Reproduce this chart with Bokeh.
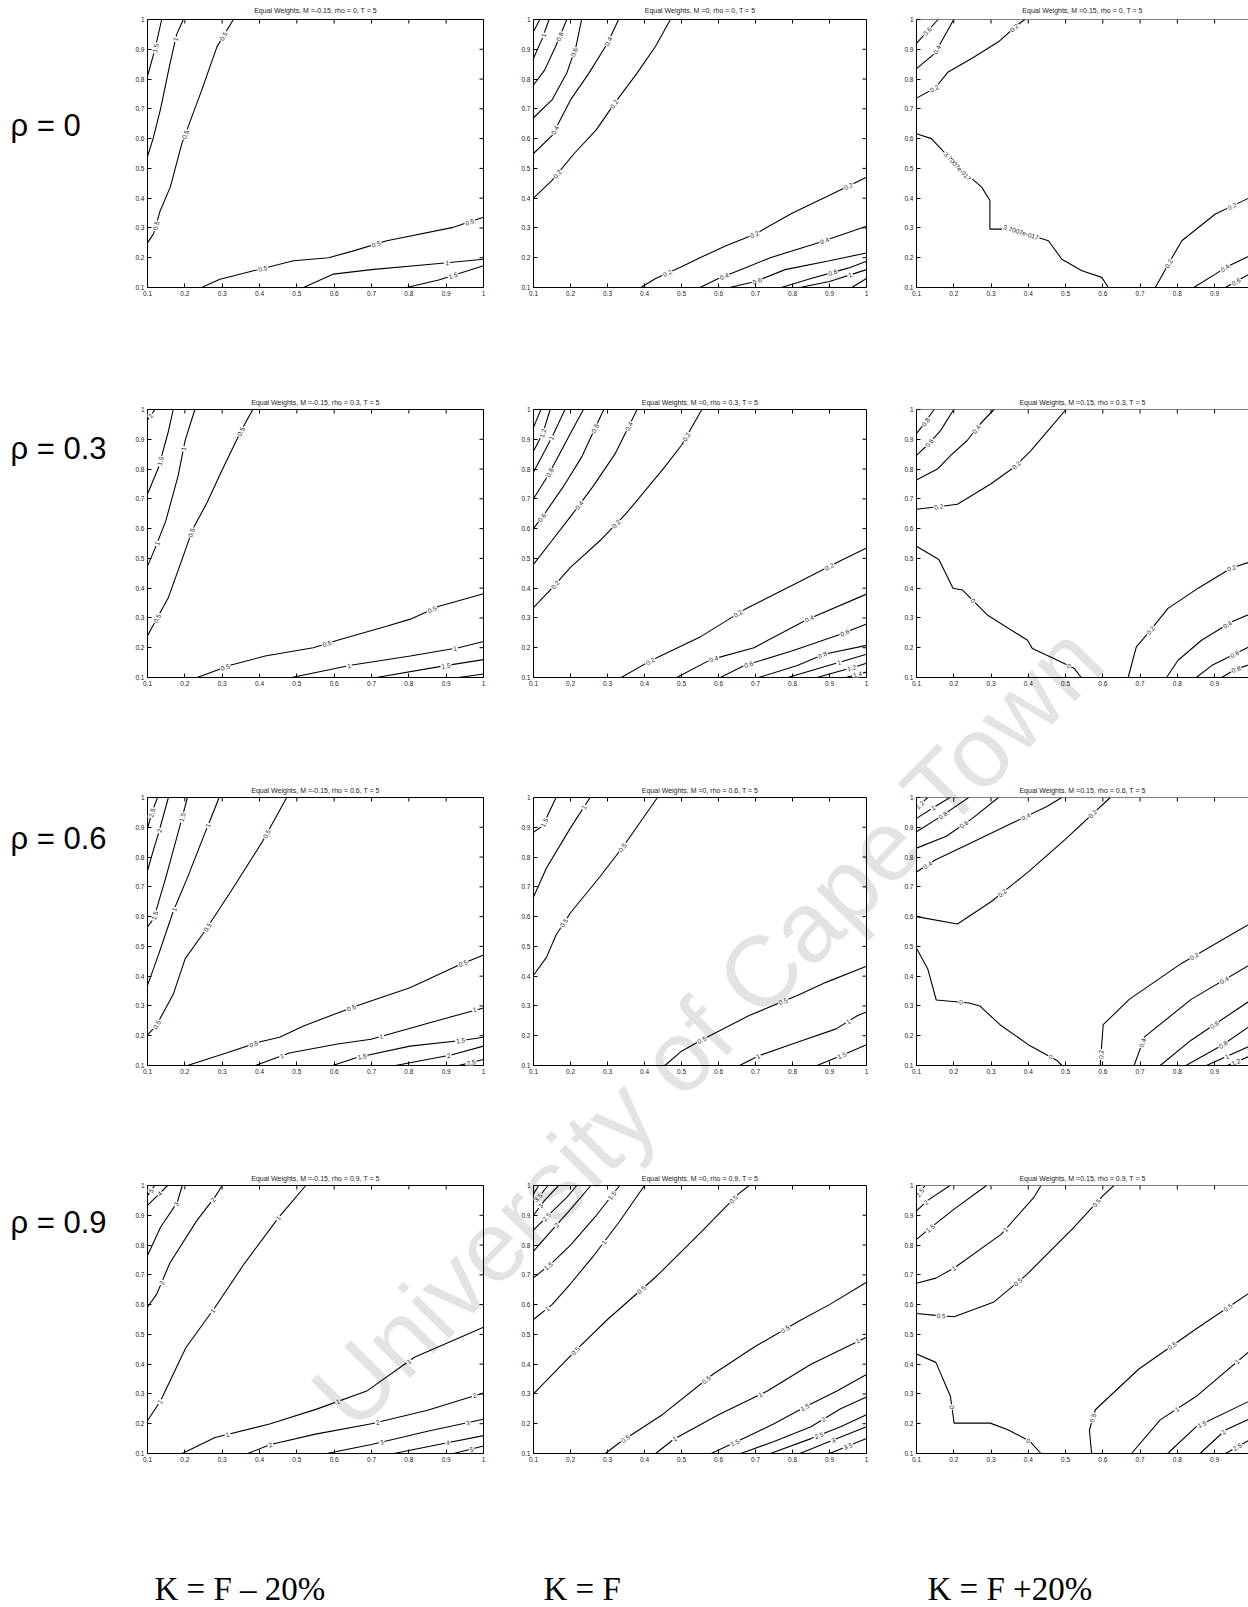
import math
from bokeh.plotting import figure
from bokeh.layouts import column, row
from bokeh.models import Range1d, FixedTicker, Span
from bokeh.core.properties import value
from bokeh.embed import file_html
from bokeh.resources import INLINE

# ---------------- data ----------------
TICKS = [0.1, 0.2, 0.3, 0.4, 0.5, 0.6, 0.7, 0.8, 0.9, 1.0]
TICK_LABELS = ["0.1", "0.2", "0.3", "0.4", "0.5", "0.6", "0.7", "0.8", "0.9", "1"]
M_VALUES = ["-0.15", "0", "0.15"]
RHO_VALUES = ["0", "0.3", "0.6", "0.9"]
RHO_LABELS = ["\u03c1 = 0", "\u03c1 = 0.3", "\u03c1 = 0.6", "\u03c1 = 0.9"]
K_LABELS = ["K = F \u2013 20%", "K = F", "K = F +20%"]
WATERMARK = "University of Cape Town"

# each contour: (label, xs, ys, label positions as fraction of line length)
R1C1 = [
    ("1.5", [0.1, 0.12, 0.138], [0.81, 0.9, 1.0], [0.5]),
    ("1", [0.1, 0.115, 0.135, 0.16, 0.178, 0.196], [0.54, 0.6, 0.7, 0.85, 0.95, 1.0], [0.85]),
    ("0.5", [0.1, 0.116, 0.134, 0.161, 0.192, 0.245, 0.286, 0.33], [0.25, 0.28, 0.358, 0.437, 0.583, 0.762, 0.908, 1.0], [0.08, 0.48, 0.92]),
    ("0.5", [0.245, 0.294, 0.384, 0.491, 0.585, 0.652, 0.741, 0.919, 1.0], [0.1, 0.128, 0.156, 0.19, 0.2, 0.223, 0.257, 0.302, 0.336], [0.22, 0.62, 0.95]),
    ("1", [0.518, 0.598, 0.7, 0.874, 1.0], [0.1, 0.145, 0.16, 0.18, 0.195], [0.8]),
    ("1.5", [0.794, 0.88, 1.0], [0.1, 0.125, 0.173], [0.6]),
]
R1C2 = [
    ("1.2", [0.1, 0.117], [0.96, 1.0], []),
    ("1", [0.1, 0.125, 0.142], [0.87, 0.94, 1.0], [0.6]),
    ("0.8", [0.1, 0.13, 0.16, 0.19], [0.78, 0.83, 0.91, 1.0], [0.75]),
    ("0.6", [0.1, 0.15, 0.19, 0.215, 0.23], [0.67, 0.73, 0.82, 0.91, 1.0], [0.7]),
    ("0.4", [0.1, 0.15, 0.2, 0.25, 0.3, 0.33], [0.55, 0.61, 0.73, 0.82, 0.92, 1.0], [0.2, 0.85]),
    ("0.2", [0.1, 0.15, 0.21, 0.27, 0.32, 0.38, 0.43, 0.47], [0.4, 0.46, 0.55, 0.63, 0.72, 0.82, 0.91, 1.0], [0.15, 0.55]),
    ("0.2", [0.39, 0.43, 0.5, 0.55, 0.62, 0.7, 0.8, 0.9, 1.0], [0.1, 0.13, 0.17, 0.2, 0.24, 0.28, 0.35, 0.41, 0.47], [0.12, 0.5, 0.92]),
    ("0.4", [0.55, 0.6, 0.68, 0.74, 0.87, 1.0], [0.1, 0.13, 0.17, 0.2, 0.25, 0.306], [0.15, 0.75]),
    ("0.6", [0.63, 0.7, 0.78, 0.9, 1.0], [0.1, 0.12, 0.16, 0.19, 0.216], [0.2]),
    ("0.8", [0.77, 0.85, 0.95, 1.0], [0.1, 0.13, 0.165, 0.188], [0.6]),
    ("1", [0.82, 0.9, 1.0], [0.1, 0.12, 0.16], [0.75]),
    ("1.2", [0.96, 1.0], [0.1, 0.13], []),
]
R1C3 = [
    ("0.6", [0.1, 0.125, 0.158], [0.92, 0.955, 1.0], [0.5]),
    ("0.4", [0.1, 0.149, 0.2], [0.835, 0.886, 1.0], [0.45]),
    ("0.2", [0.1, 0.15, 0.185, 0.248, 0.32, 0.373, 0.391], [0.736, 0.77, 0.824, 0.869, 0.925, 0.984, 1.0], [0.15, 0.9]),
    ("3.7007e-017", [0.1, 0.14, 0.212, 0.275, 0.297, 0.297, 0.355, 0.454, 0.49, 0.544, 0.597, 0.615],
     [0.616, 0.6, 0.504, 0.437, 0.392, 0.296, 0.296, 0.257, 0.195, 0.156, 0.134, 0.1], [0.2, 0.6]),
    ("0.2", [0.741, 0.776, 0.812, 0.902, 1.0], [0.1, 0.179, 0.257, 0.347, 0.405], [0.2, 0.84]),
    ("0.4", [0.844, 0.902, 0.929, 1.0], [0.1, 0.145, 0.167, 0.21], [0.55]),
    ("0.6", [0.929, 1.0], [0.1, 0.15], [0.4]),
]
R2C1 = [
    ("2", [0.1, 0.12], [0.965, 1.0], [0.4]),
    ("1.5", [0.1, 0.13, 0.156, 0.169], [0.716, 0.807, 0.927, 1.0], [0.4]),
    ("1", [0.1, 0.123, 0.149, 0.182, 0.201, 0.227], [0.474, 0.542, 0.626, 0.777, 0.897, 1.0], [0.15, 0.75]),
    ("0.5", [0.1, 0.123, 0.156, 0.195, 0.22, 0.259, 0.298, 0.35, 0.382], [0.24, 0.293, 0.369, 0.505, 0.595, 0.686, 0.792, 0.927, 1.0], [0.08, 0.45, 0.9]),
    ("0.5", [0.233, 0.324, 0.415, 0.544, 0.609, 0.738, 0.804, 0.881, 1.0], [0.1, 0.142, 0.172, 0.2, 0.225, 0.271, 0.296, 0.339, 0.381], [0.1, 0.45, 0.82]),
    ("1", [0.486, 0.648, 0.804, 0.933, 1.0], [0.1, 0.142, 0.172, 0.2, 0.221], [0.3, 0.85]),
    ("1.5", [0.713, 0.894, 1.0], [0.1, 0.139, 0.16], [0.65]),
    ("2", [0.933, 1.0], [0.1, 0.112], []),
]
R2C2 = [
    ("1.4", [0.1, 0.12], [0.94, 1.0], []),
    ("1.2", [0.1, 0.125, 0.145], [0.86, 0.92, 1.0], [0.45]),
    ("1", [0.1, 0.13, 0.155, 0.185], [0.79, 0.86, 0.92, 1.0], [0.55]),
    ("0.8", [0.1, 0.14, 0.17, 0.2, 0.235], [0.7, 0.78, 0.85, 0.92, 1.0], [0.3]),
    ("0.6", [0.1, 0.13, 0.18, 0.23, 0.26, 0.29], [0.6, 0.65, 0.74, 0.84, 0.92, 1.0], [0.1, 0.85]),
    ("0.4", [0.1, 0.15, 0.2, 0.26, 0.32, 0.38], [0.48, 0.56, 0.64, 0.74, 0.85, 1.0], [0.4, 0.9]),
    ("0.2", [0.1, 0.15, 0.2, 0.28, 0.35, 0.45, 0.5, 0.555], [0.335, 0.4, 0.47, 0.56, 0.65, 0.8, 0.88, 1.0], [0.12, 0.45, 0.88]),
    ("0.2", [0.337, 0.422, 0.553, 0.67, 0.813, 0.931, 1.0], [0.1, 0.16, 0.238, 0.328, 0.418, 0.493, 0.535], [0.12, 0.48, 0.85]),
    ("0.4", [0.487, 0.579, 0.696, 0.84, 1.0], [0.1, 0.16, 0.2, 0.295, 0.38], [0.2, 0.7]),
    ("0.6", [0.605, 0.67, 0.8, 0.93, 1.0], [0.1, 0.14, 0.19, 0.245, 0.28], [0.2, 0.85]),
    ("0.8", [0.709, 0.813, 0.885, 1.0], [0.1, 0.14, 0.178, 0.208], [0.6]),
    ("1", [0.787, 0.918, 1.0], [0.1, 0.148, 0.178], [0.65]),
    ("1.2", [0.866, 0.97, 1.0], [0.1, 0.136, 0.148], [0.7]),
    ("1.4", [0.944, 1.0], [0.1, 0.118], [0.6]),
]
R2C3 = [
    ("0.8", [0.1, 0.124, 0.147], [0.919, 0.958, 1.0], [0.5]),
    ("0.6", [0.1, 0.133, 0.165, 0.2], [0.846, 0.885, 0.93, 1.0], [0.3]),
    ("0.4", [0.1, 0.156, 0.192, 0.236, 0.272, 0.308], [0.763, 0.8, 0.846, 0.896, 0.953, 1.0], [0.75]),
    ("0.2", [0.1, 0.174, 0.21, 0.299, 0.362, 0.407, 0.461, 0.501], [0.665, 0.676, 0.682, 0.75, 0.806, 0.862, 0.941, 1.0], [0.12, 0.6]),
    ("0", [0.1, 0.16, 0.198, 0.223, 0.29, 0.398, 0.411, 0.47, 0.524, 0.542], [0.541, 0.496, 0.4, 0.394, 0.31, 0.225, 0.197, 0.163, 0.13, 0.1], [0.38, 0.92]),
    ("0.2", [0.668, 0.69, 0.721, 0.775, 0.856, 0.945, 1.0], [0.1, 0.203, 0.248, 0.332, 0.4, 0.468, 0.49], [0.3, 0.88]),
    ("0.4", [0.771, 0.802, 0.865, 0.946, 1.0], [0.1, 0.158, 0.225, 0.287, 0.316], [0.75]),
    ("0.6", [0.851, 0.892, 0.946, 1.0], [0.1, 0.14, 0.174, 0.208], [0.7]),
    ("0.8", [0.919, 0.955, 1.0], [0.1, 0.127, 0.146], [0.5]),
]
R3C1 = [
    ("2.5", [0.1, 0.114, 0.127], [0.897, 0.958, 1.0], [0.5]),
    ("2", [0.1, 0.115, 0.13, 0.156], [0.754, 0.82, 0.882, 1.0], [0.55]),
    ("1.5", [0.1, 0.117, 0.149, 0.182, 0.207], [0.565, 0.595, 0.731, 0.882, 1.0], [0.1, 0.85]),
    ("1", [0.1, 0.13, 0.169, 0.207, 0.259, 0.292], [0.369, 0.474, 0.618, 0.731, 0.897, 1.0], [0.4, 0.85]),
    ("0.5", [0.1, 0.123, 0.169, 0.201, 0.253, 0.324, 0.408, 0.473], [0.203, 0.233, 0.339, 0.459, 0.55, 0.686, 0.852, 1.0], [0.05, 0.45, 0.85]),
    ("0.5", [0.207, 0.311, 0.402, 0.454, 0.518, 0.661, 0.803, 0.933, 1.0], [0.1, 0.142, 0.18, 0.195, 0.233, 0.301, 0.361, 0.437, 0.471], [0.22, 0.55, 0.93]),
    ("1", [0.389, 0.48, 0.609, 0.699, 0.868, 1.0], [0.1, 0.142, 0.172, 0.188, 0.248, 0.293], [0.12, 0.55, 0.98]),
    ("1.5", [0.596, 0.661, 0.803, 0.946, 1.0], [0.1, 0.127, 0.165, 0.185, 0.195], [0.2, 0.85]),
    ("2", [0.764, 0.913, 1.0], [0.1, 0.135, 0.165], [0.6]),
    ("2.5", [0.933, 1.0], [0.1, 0.12], [0.5]),
]
R3C2 = [
    ("1.5", [0.1, 0.125, 0.161], [0.883, 0.905, 1.0], [0.35]),
    ("1", [0.1, 0.135, 0.2, 0.253], [0.666, 0.763, 0.898, 1.0], [0.9]),
    ("0.5", [0.1, 0.135, 0.161, 0.2, 0.279, 0.344, 0.435], [0.403, 0.463, 0.538, 0.613, 0.733, 0.838, 1.0], [0.28, 0.72]),
    ("0.5", [0.455, 0.5, 0.553, 0.683, 0.813, 0.892, 1.0], [0.1, 0.148, 0.185, 0.268, 0.335, 0.38, 0.433], [0.2, 0.6]),
    ("1", [0.657, 0.709, 0.813, 0.918, 0.976, 1.0], [0.1, 0.133, 0.178, 0.223, 0.268, 0.28], [0.15, 0.85]),
    ("1.5", [0.866, 0.931, 1.0], [0.1, 0.133, 0.17], [0.5]),
]
R3C3 = [
    ("1.2", [0.1, 0.13], [0.965, 1.0], [0.3]),
    ("1", [0.1, 0.15, 0.19], [0.93, 0.97, 1.0], [0.5]),
    ("0.8", [0.1, 0.17, 0.24], [0.885, 0.94, 1.0], [0.5]),
    ("0.6", [0.1, 0.18, 0.25, 0.32], [0.83, 0.87, 0.93, 1.0], [0.55]),
    ("0.4", [0.1, 0.15, 0.25, 0.35, 0.45, 0.49], [0.75, 0.79, 0.85, 0.91, 0.97, 1.0], [0.08, 0.75]),
    ("0.2", [0.1, 0.21, 0.3, 0.4, 0.5, 0.62], [0.6, 0.575, 0.65, 0.75, 0.86, 1.0], [0.4, 0.9]),
    ("0", [0.1, 0.13, 0.153, 0.241, 0.27, 0.324, 0.4, 0.477, 0.49], [0.494, 0.425, 0.32, 0.31, 0.3, 0.237, 0.17, 0.117, 0.1], [0.4, 0.93]),
    ("0.2", [0.593, 0.601, 0.671, 0.81, 1.0], [0.1, 0.237, 0.322, 0.442, 0.58], [0.05, 0.7]),
    ("0.4", [0.684, 0.712, 0.837, 1.0], [0.1, 0.196, 0.322, 0.442], [0.15, 0.8]),
    ("0.6", [0.754, 0.837, 1.0], [0.1, 0.185, 0.322], [0.6]),
    ("0.8", [0.823, 0.92, 1.0], [0.1, 0.168, 0.237], [0.55]),
    ("1", [0.878, 1.0], [0.1, 0.168], [0.45]),
    ("1.2", [0.934, 1.0], [0.1, 0.134], [0.35]),
]
R4C1 = [
    ("5", [0.1, 0.119], [0.966, 1.0], [0.5]),
    ("4", [0.1, 0.13, 0.154], [0.933, 0.97, 1.0], [0.6]),
    ("3", [0.1, 0.135, 0.18, 0.193], [0.765, 0.86, 0.944, 1.0], [0.75]),
    ("2", [0.1, 0.125, 0.16, 0.232, 0.28, 0.3], [0.591, 0.636, 0.74, 0.882, 0.96, 1.0], [0.2, 0.88]),
    ("1", [0.1, 0.135, 0.203, 0.281, 0.359, 0.452, 0.524], [0.21, 0.277, 0.456, 0.591, 0.737, 0.894, 1.0], [0.08, 0.45, 0.85]),
    ("1", [0.193, 0.281, 0.427, 0.553, 0.689, 0.815, 1.0], [0.1, 0.154, 0.199, 0.249, 0.311, 0.423, 0.524], [0.15, 0.5, 0.75]),
    ("2", [0.368, 0.43, 0.55, 0.7, 0.85, 1.0], [0.1, 0.13, 0.165, 0.2, 0.245, 0.303], [0.1, 0.55, 0.97]),
    ("3", [0.58, 0.7, 0.85, 1.0], [0.1, 0.13, 0.175, 0.215], [0.35, 0.9]),
    ("4", [0.76, 0.9, 1.0], [0.1, 0.135, 0.16], [0.6]),
    ("5", [0.92, 1.0], [0.1, 0.125], [0.6]),
]
R4C2 = [
    ("4", [0.1, 0.114], [0.972, 1.0], []),
    ("3.5", [0.1, 0.12, 0.139], [0.944, 0.97, 1.0], [0.3]),
    ("3", [0.1, 0.13, 0.168], [0.9, 0.95, 1.0], [0.3]),
    ("2.5", [0.1, 0.14, 0.19, 0.217], [0.85, 0.9, 0.96, 1.0], [0.3]),
    ("2", [0.1, 0.15, 0.2, 0.255], [0.78, 0.85, 0.92, 1.0], [0.4]),
    ("1.5", [0.1, 0.15, 0.2, 0.27, 0.333], [0.69, 0.74, 0.8, 0.9, 1.0], [0.15, 0.9]),
    ("1", [0.1, 0.15, 0.2, 0.26, 0.333, 0.4], [0.55, 0.6, 0.67, 0.76, 0.88, 1.0], [0.1, 0.6]),
    ("0.5", [0.1, 0.217, 0.3, 0.434, 0.55, 0.654, 0.683], [0.3, 0.45, 0.55, 0.697, 0.84, 0.972, 1.0], [0.2, 0.5, 0.93]),
    ("0.5", [0.294, 0.333, 0.45, 0.586, 0.7, 0.819, 0.9, 1.0], [0.1, 0.137, 0.232, 0.367, 0.46, 0.546, 0.6, 0.675], [0.08, 0.4, 0.7]),
    ("1", [0.43, 0.479, 0.6, 0.732, 0.85, 1.0], [0.1, 0.148, 0.23, 0.31, 0.4, 0.49], [0.1, 0.5, 0.97]),
    ("1.5", [0.58, 0.65, 0.75, 0.84, 0.92, 1.0], [0.1, 0.14, 0.2, 0.26, 0.31, 0.365], [0.15, 0.6]),
    ("2", [0.66, 0.75, 0.85, 0.93, 1.0], [0.1, 0.14, 0.19, 0.25, 0.29], [0.65]),
    ("2.5", [0.74, 0.85, 0.93, 1.0], [0.1, 0.15, 0.19, 0.23], [0.5]),
    ("3", [0.82, 0.9, 1.0], [0.1, 0.14, 0.19], [0.5]),
    ("3.5", [0.9, 0.95, 1.0], [0.1, 0.125, 0.15], [0.5]),
]
R4C3 = [
    ("2.5", [0.1, 0.123], [0.96, 1.0], [0.4]),
    ("2", [0.1, 0.13, 0.19], [0.915, 0.95, 1.0], [0.3]),
    ("1.5", [0.1, 0.14, 0.2, 0.288], [0.819, 0.86, 0.92, 1.0], [0.2]),
    ("1", [0.1, 0.152, 0.201, 0.327, 0.415, 0.434], [0.672, 0.689, 0.723, 0.836, 0.96, 1.0], [0.25, 0.65]),
    ("0.5", [0.1, 0.152, 0.201, 0.308, 0.395, 0.521, 0.6, 0.63], [0.57, 0.564, 0.559, 0.609, 0.7, 0.858, 0.965, 1.0], [0.1, 0.45, 0.9]),
    ("0", [0.1, 0.152, 0.191, 0.201, 0.298, 0.347, 0.405, 0.434], [0.434, 0.406, 0.292, 0.202, 0.202, 0.179, 0.14, 0.1], [0.38, 0.9]),
    ("0.5", [0.57, 0.564, 0.58, 0.696, 0.851, 1.0], [0.1, 0.179, 0.247, 0.383, 0.519, 0.645], [0.15, 0.6, 0.88]),
    ("1", [0.677, 0.754, 0.851, 1.0], [0.1, 0.213, 0.292, 0.45], [0.4, 0.88]),
    ("1.5", [0.774, 0.851, 1.0], [0.1, 0.19, 0.28], [0.45]),
    ("2", [0.861, 0.929, 1.0], [0.1, 0.179, 0.22], [0.5]),
    ("2.5", [0.929, 1.0], [0.1, 0.15], [0.45]),
]
PANELS = [[R1C1, R1C2, R1C3], [R2C1, R2C2, R2C3], [R3C1, R3C2, R3C3], [R4C1, R4C2, R4C3]]

# ---------------- layout geometry (px) ----------------
FRAME_W = [336, 333, 332]
BORDER_L = [40, 40, 40]
BORDER_R = [10, 10, 0]
X_END = [1.0, 1.0, 0.991]      # third column is cut at the page edge, as in the scan
FRAME_H = 268
ROW_T = [19, 19, 19, 19]
ROW_B = [103, 101, 101, 14]
TITLE_VALIGN = ["top", "bottom", "bottom", "bottom"]
LABEL_W = 107
RHO_Y = [125, 58, 60, 56]      # label centre, px from top of its row
BOTTOM_H = 139
K_X = [154, 543, 927]
K_Y = 121                      # label centre, px from top of bottom strip
WM_CENTER = (707, 1025)        # page position of the watermark centre
WM_ANGLE = 45.5                # degrees
LABEL_EDGE_PAD = 9             # px kept between a contour label and the frame's right edge

SANS = value("Liberation Sans")
SERIF = value("Liberation Serif")


def label_points(xs, ys, fracs, W, H, xend):
    sx = [(x - 0.1) / (xend - 0.1) * W for x in xs]
    sy = [(y - 0.1) / 0.9 * H for y in ys]
    segs = [math.hypot(sx[i + 1] - sx[i], sy[i + 1] - sy[i]) for i in range(len(sx) - 1)]
    total = sum(segs)
    out = []
    for f in fracs:
        d = f * total
        acc = 0.0
        for i, s in enumerate(segs):
            if acc + s >= d or i == len(segs) - 1:
                t = 0 if s == 0 else min(1.0, max(0.0, (d - acc) / s))
                px = sx[i] + t * (sx[i + 1] - sx[i])
                py = sy[i] + t * (sy[i + 1] - sy[i])
                ang = math.atan2(sy[i + 1] - sy[i], sx[i + 1] - sx[i])
                if ang > math.pi / 2:
                    ang -= math.pi
                elif ang < -math.pi / 2:
                    ang += math.pi
                px = min(px, W - LABEL_EDGE_PAD)
                out.append((0.1 + px / W * (xend - 0.1), 0.1 + py / H * 0.9, ang))
                break
            acc += s
    return out


def make_panel(r, c):
    W = FRAME_W[c]
    xend = X_END[c]
    p = figure(width=BORDER_L[c] + W + BORDER_R[c], height=ROW_T[r] + FRAME_H + ROW_B[r],
               x_range=Range1d(0.1, xend), y_range=Range1d(0.1, 1.0),
               output_backend="svg", toolbar_location=None, tools="",
               min_border_left=BORDER_L[c], min_border_right=BORDER_R[c],
               min_border_top=ROW_T[r], min_border_bottom=ROW_B[r])
    p.title.text = "Equal Weights, M =%s, rho = %s, T = 5" % (M_VALUES[c], RHO_VALUES[r])
    p.title.align = "center"
    p.title.vertical_align = TITLE_VALIGN[r]
    p.title.text_font = "Liberation Sans"
    p.title.text_font_size = "7px"
    p.title.text_font_style = "normal"
    p.title.text_color = "#222222"
    p.title.standoff = 8
    p.grid.visible = False
    p.background_fill_color = "white"
    p.border_fill_color = "white"
    overrides = {t: l for t, l in zip(TICKS, TICK_LABELS)}
    for ax in (p.xaxis[0], p.yaxis[0]):
        ax.ticker = FixedTicker(ticks=TICKS)
        ax.major_label_overrides = overrides
        ax.major_label_text_font = "Liberation Sans"
        ax.major_label_text_font_size = "6.5px"
        ax.major_label_text_color = "#222222"
        ax.major_label_standoff = 3
        ax.major_tick_in = 4
        ax.major_tick_out = 0
        ax.minor_tick_line_color = None
        ax.major_tick_line_color = "black"
    if c < 2:
        p.outline_line_color = "black"
        p.outline_line_width = 1
        for ax in (p.xaxis[0], p.yaxis[0]):
            ax.axis_line_color = None
    else:
        # frame cut at the right page edge: draw only left, bottom and top edges
        p.outline_line_color = None
        for ax in (p.xaxis[0], p.yaxis[0]):
            ax.axis_line_color = "black"
            ax.axis_line_width = 1
        p.add_layout(Span(location=1.0, dimension="width", line_color="black", line_width=1))

    # inward tick marks on the top (and right) edges, at the same tick values
    tick_dy = 4.0 / FRAME_H * 0.9
    tick_dx = 4.0 / W * (xend - 0.1)
    top_ticks = [t for t in TICKS if t <= xend]
    p.segment(x0=top_ticks, y0=[1.0] * len(top_ticks), x1=top_ticks, y1=[1.0 - tick_dy] * len(top_ticks),
              line_color="black", line_width=1)
    if c < 2:
        p.segment(x0=[1.0] * len(TICKS), y0=TICKS, x1=[1.0 - tick_dx] * len(TICKS), y1=TICKS,
                  line_color="black", line_width=1)

    lines = PANELS[r][c]
    lx, ly, la, lt = [], [], [], []
    for lab, xs, ys, fracs in lines:
        p.line(xs, ys, line_color="black", line_width=1.1)
        for (x, y, a) in label_points(xs, ys, fracs, W, FRAME_H, xend):
            lx.append(x)
            ly.append(y)
            la.append(a)
            lt.append(lab)
    if lt:
        p.text(x=lx, y=ly, text=lt, angle=la, text_font=SANS, text_font_size="6.5px",
               text_color="#222222", text_align="center", text_baseline="middle",
               background_fill_color="white", padding=1)
    return p


def make_rho(r):
    # same borders as the panels of the row, so the frame lines up with theirs;
    # the y range is expressed in pixels from the top of the row
    h = ROW_T[r] + FRAME_H + ROW_B[r]
    p = figure(width=LABEL_W, height=h, x_range=Range1d(0, LABEL_W),
               y_range=Range1d(ROW_T[r] + FRAME_H, ROW_T[r]),
               output_backend="svg", toolbar_location=None, tools="", title=None,
               x_axis_location=None, y_axis_location=None,
               min_border_left=0, min_border_right=0,
               min_border_top=ROW_T[r], min_border_bottom=ROW_B[r])
    p.grid.visible = False
    p.outline_line_color = None
    p.text(x=[10], y=[RHO_Y[r]], text=[RHO_LABELS[r]], text_font=SANS, text_font_size="31px",
           text_color="black", text_align="left", text_baseline="middle")
    return p


rows = []
for r in range(4):
    rows.append(row([make_rho(r)] + [make_panel(r, c) for c in range(3)], spacing=0))

total_w = LABEL_W + sum(BORDER_L[c] + FRAME_W[c] + BORDER_R[c] for c in range(3))
bottom = figure(width=total_w, height=BOTTOM_H, x_range=Range1d(0, total_w), y_range=Range1d(BOTTOM_H, 0),
                output_backend="svg", toolbar_location=None, tools="",
                x_axis_location=None, y_axis_location=None,
                min_border_left=0, min_border_right=0, min_border_top=0, min_border_bottom=0)
bottom.grid.visible = False
bottom.outline_line_color = None
bottom.text(x=K_X, y=[K_Y] * 3, text=K_LABELS, text_font=SERIF, text_font_size="33px",
            text_color="black", text_align="left", text_baseline="middle")
rows.append(bottom)

# transparent page-size layer carrying the scanned page's watermark, pulled up over the grid
total_h = sum(ROW_T[r] + FRAME_H + ROW_B[r] for r in range(4)) + BOTTOM_H
wm = figure(width=total_w, height=total_h, x_range=Range1d(0, total_w), y_range=Range1d(total_h, 0),
            output_backend="svg", toolbar_location=None, tools="",
            x_axis_location=None, y_axis_location=None,
            min_border_left=0, min_border_right=0, min_border_top=0, min_border_bottom=0,
            styles={"margin-top": "-%dpx" % total_h, "pointer-events": "none"})
wm.grid.visible = False
wm.outline_line_color = None
wm.background_fill_color = None
wm.border_fill_color = None
wm.text(x=[WM_CENTER[0]], y=[WM_CENTER[1]], text=[WATERMARK], angle=[math.radians(WM_ANGLE)],
        text_font=SANS, text_font_size="100px", text_color="black", text_alpha=0.11,
        text_align="center", text_baseline="middle")
rows.append(wm)

layout = column(rows, spacing=0)
open("out.html", "w").write(file_html(layout, INLINE))
